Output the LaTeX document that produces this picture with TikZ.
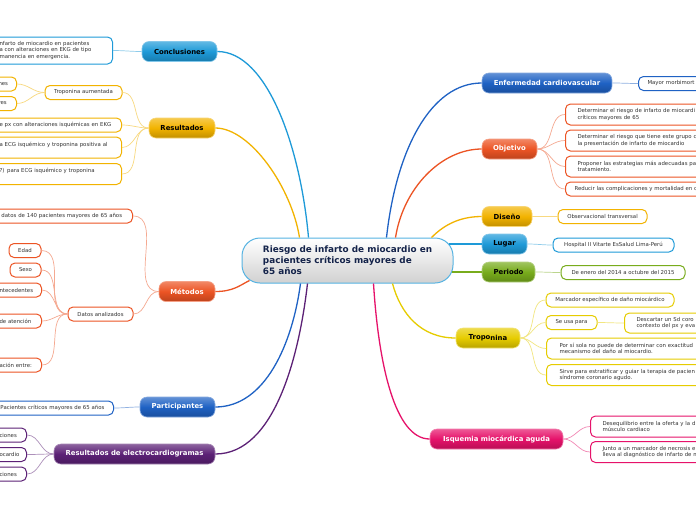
\documentclass[tikz,border=0pt]{standalone}
\usepackage{fontspec}
\setmainfont{DejaVu Sans}

\definecolor{cBlue}{HTML}{1E9AD8}
\definecolor{cNavy}{HTML}{1F62C4}
\definecolor{cGold}{HTML}{F2B300}
\definecolor{cRed}{HTML}{EC5424}
\definecolor{cGreen}{HTML}{78AC1C}
\definecolor{cYel}{HTML}{E6CC00}
\definecolor{cPink}{HTML}{E6126A}
\definecolor{cPurp}{HTML}{5C2176}
\definecolor{cRoot}{HTML}{14234A}

\tikzset{
  mainbox/.style={rounded corners=7pt, minimum height=20, inner sep=0pt,
    font=\bfseries\fontsize{6.9}{8}\selectfont,
    draw=#1!55!white, line width=0.6pt,
    top color=#1!70!white, bottom color=#1!80!black, middle color=#1},
  rootbox/.style={rounded corners=18pt, minimum width=211, minimum height=45,
    inner sep=0pt, align=left, text=cRoot,
    font=\bfseries\fontsize{8.85}{11}\selectfont,
    top color=white, bottom color=black!18, draw=cBlue!75, line width=1pt},
  subbox/.style={draw=#1, line width=1pt, fill=white, rounded corners=5pt,
    font=\fontsize{5.4}{6.4}\selectfont, text=black!80, align=left,
    minimum height=14, inner xsep=9pt, inner ysep=1pt},
  twoline/.style={minimum height=21},
  cutleft/.style={anchor=east, text width=#1},
  cutright/.style={anchor=west, text width=#1, inner xsep=12pt},
  trunk/.style={draw=#1, line width=1.3pt},
  twig/.style={draw=#1!50!white, line width=0.7pt},
}

\begin{document}
\begin{tikzpicture}[x=1pt, y=-1pt]
\useasboundingbox (0,0) rectangle (696,520);
\clip (0,0) rectangle (696,520);
\fill[white] (0,0) rectangle (696,520);

% centre
\node[rootbox] (root) at (347.5,260.5) {Riesgo de infarto de miocardio en\\pacientes críticos mayores de\\65 años};

% left branches
\node[mainbox=cBlue, minimum width=75] (concl) at (179.5,51.5) {Conclusiones};
\node[subbox=cBlue, cutleft=104pt, minimum height=27] (concl1) at (113,50.5) {\mbox{nfarto de miocardio en pacientes}\\\mbox{a con alteraciones en EKG de tipo}\\\mbox{manencia en emergencia.}};

\node[mainbox=cGold, minimum width=66] (res) at (182,128) {Resultados};
\node[subbox=cGold, minimum width=77] (tropup) at (83.5,92.5) {Troponina aumentada};
\node[subbox=cGold, cutleft=9pt] (tropup1) at (17,84) {nes};
\node[subbox=cGold, cutleft=9pt] (tropup2) at (17,103.5) {res};
\node[subbox=cGold, cutleft=113pt] (res1) at (122,125) {\mbox{e px con alteraciones isquémicas en EKG}};
\node[subbox=cGold, cutleft=113pt, twoline] (res2) at (122,147.5) {\mbox{a ECG isquémico y troponina positiva al}\\\mbox{}};
\node[subbox=cGold, cutleft=113pt, twoline] (res3) at (122,174) {\mbox{?) para ECG isquémico y troponina}\\\mbox{}};

\node[mainbox=cRed, minimum width=56, text=white] (met) at (187,291.5) {Métodos};
\node[subbox=cRed, cutleft=122pt] (met1) at (133,216) {\mbox{datos de 140 pacientes mayores de 65 años}};
\node[subbox=cRed, minimum width=65] (datos) at (100.5,314) {Datos analizados};
\node[subbox=cRed, minimum width=32] (edad) at (25,250.5) {Edad};
\node[subbox=cRed, minimum width=31] (sexo) at (25.5,270) {Sexo};
\node[subbox=cRed, cutleft=33pt] (ante) at (42,290) {\mbox{ntecedentes}};
\node[subbox=cRed, cutleft=33pt] (aten) at (42,321) {\mbox{de atención}};
\node[subbox=cRed, cutleft=33pt] (rel) at (42,365) {\mbox{ación entre:}};

\node[mainbox=cNavy, minimum width=75, text=white] (part) at (177.5,407) {Participantes};
\node[subbox=cNavy, cutleft=104pt] (part1) at (114,408) {\mbox{Pacientes críticos mayores de 65 años}};

\node[mainbox=cPurp, minimum width=161, text=white] (ecg) at (134.5,454) {Resultados de electrocardiogramas};
\node[subbox=cPurp, cutleft=18pt] (ecg1) at (27,435) {ciones};
\node[subbox=cPurp, cutleft=18pt] (ecg2) at (27,454.5) {ocardio};
\node[subbox=cPurp, cutleft=18pt] (ecg3) at (27,474) {ciones};

% right branches
\node[mainbox=cNavy, minimum width=130, text=white] (cardio) at (547,83) {Enfermedad cardiovascular};
\node[subbox=cNavy, cutright=150pt, inner xsep=9pt] (cardio1) at (638,83.5) {Mayor morbimort};

\node[mainbox=cRed, minimum width=55, text=white] (obj) at (509.5,149) {Objetivo};
\node[subbox=cRed, cutright=150pt, twoline] (obj1) at (565,114.5) {\mbox{Determinar el riesgo de infarto de miocardi}\\críticos mayores de 65};
\node[subbox=cRed, cutright=150pt, twoline] (obj2) at (565,140.5) {\mbox{Determinar el riesgo que tiene este grupo c}\\la presentación de infarto de miocardio};
\node[subbox=cRed, cutright=150pt, twoline] (obj3) at (565,166.5) {\mbox{Proponer las estrategias más adecuadas pa}\\tratamiento.};
\node[subbox=cRed, cutright=150pt, inner xsep=9pt] (obj4) at (565,189) {\mbox{Reducir las complicaciones y mortalidad en c}};

\node[mainbox=cGold, minimum width=50] (dis) at (507,216.5) {Diseño};
\node[subbox=cGold, minimum width=89] (dis1) at (602.5,216.5) {Observacional transversal};

\node[mainbox=cBlue, minimum width=45] (lug) at (504.5,244) {Lugar};
\node[subbox=cBlue, minimum width=121] (lug1) at (613.5,245) {Hospital II Vitarte EsSalud Lima-Perú};

\node[mainbox=cGreen, minimum width=53] (per) at (508.5,272) {Periodo};
\node[subbox=cGreen, minimum width=124] (per1) at (623,272.5) {De enero del 2014 a octubre del 2015};

\node[mainbox=cYel, minimum width=64] (trop) at (488,338) {Tropo\raisebox{-1.1pt}{nina}};
\node[subbox=cYel, minimum width=128] (trop1) at (610,300) {Marcador específico de daño miocárdico};
\node[subbox=cYel, minimum width=51] (trop2) at (571.5,322.5) {Se usa para};
\node[subbox=cYel, cutright=150pt, minimum height=20] (trop2a) at (624,323) {\mbox{Descartar un Sd coro}\\contexto del px y eva};
\node[subbox=cYel, cutright=150pt, twoline, inner xsep=13pt] (trop3) at (546,348.5) {\mbox{Por sí sola no puede de determinar con exactitud}\\mecanismo del daño al miocardio.};
\node[subbox=cYel, cutright=150pt, twoline, inner xsep=13pt] (trop4) at (546,375) {\mbox{Sirve para estratificar y guiar la terapia de pacien}\\síndrome coronario agudo.};

\node[mainbox=cPink, minimum width=133, text=white] (isq) at (496.5,439) {Isquemia miocárdica aguda};
\node[subbox=cPink, cutright=150pt, twoline] (isq1) at (590,426.5) {\mbox{Desequilibrio entre la oferta y la d}\\músculo cardiaco};
\node[subbox=cPink, cutright=150pt, twoline] (isq2) at (590,452) {\mbox{Junto a un marcador de necrosis e}\\\mbox{lleva al diagnóstico de infarto de m}};

% trunks
\draw[trunk=cBlue] (concl.east) .. controls +(50,0) and +(-8,-90) .. ([xshift=67pt]root.north west);
\draw[trunk=cGold] (res.east) .. controls +(35,0) and +(-8,-50) .. ([xshift=58pt]root.north west);
\draw[trunk=cRed] (met.east) .. controls +(18,0) and +(-10,5) .. ([xshift=8pt,yshift=3pt]root.south west);
\draw[trunk=cNavy] (part.east) .. controls +(50,0) and +(-8,60) .. ([xshift=59pt]root.south west);
\draw[trunk=cPurp] (ecg.east) .. controls +(60,0) and +(-8,70) .. ([xshift=66pt]root.south west);
\draw[trunk=cNavy] (cardio.west) .. controls +(-50,0) and +(10,-90) .. ([xshift=145pt]root.north west);
\draw[trunk=cRed] (obj.west) .. controls +(-40,0) and +(8,-50) .. ([xshift=154pt]root.north west);
\draw[trunk=cGold] (dis.west) .. controls +(-25,0) and +(10,-10) .. ([xshift=-22pt]root.north east);
\draw[trunk=cBlue] (lug.west) .. controls +(-15,0) and +(15,0) .. ([xshift=-5pt,yshift=16.5pt]root.east);
\draw[trunk=cGreen] (per.west) .. controls +(-15,0) and +(15,0) .. ([xshift=-1.5pt,yshift=-11.5pt]root.east);
\draw[trunk=cYel] (trop.west) .. controls +(-35,0) and +(8,30) .. ([xshift=151pt]root.south west);
\draw[trunk=cPink] (isq.west) .. controls +(-35,0) and +(5,80) .. ([xshift=132pt]root.south west);

% twigs, left
\draw[twig=cBlue] (concl.west) to[out=180,in=0] (concl1.east);
\foreach \n in {tropup,res1,res2,res3}
  \draw[twig=cGold] (res.west) to[out=180,in=0] (\n.east);
\foreach \n in {tropup1,tropup2}
  \draw[twig=cGold] (tropup.west) to[out=180,in=0] (\n.east);
\foreach \n in {met1,datos}
  \draw[twig=cRed] (met.west) to[out=180,in=0] (\n.east);
\foreach \n in {edad,sexo,ante,aten,rel}
  \draw[twig=cRed] (datos.west) to[out=180,in=0] (\n.east);
\draw[twig=cNavy] (part.west) to[out=180,in=0] (part1.east);
\foreach \n in {ecg1,ecg2,ecg3}
  \draw[twig=cPurp] (ecg.west) to[out=180,in=0] (\n.east);

% twigs, right
\draw[twig=cNavy] (cardio.east) to[out=0,in=180] (cardio1.west);
\foreach \n in {obj1,obj2,obj3,obj4}
  \draw[twig=cRed] (obj.east) to[out=0,in=180] (\n.west);
\draw[twig=cGold] (dis.east) to[out=0,in=180] (dis1.west);
\draw[twig=cBlue] (lug.east) to[out=0,in=180] (lug1.west);
\draw[twig=cGreen] (per.east) to[out=0,in=180] (per1.west);
\foreach \n in {trop1,trop2,trop3,trop4}
  \draw[twig=cYel] (trop.east) to[out=0,in=180] (\n.west);
\draw[twig=cYel] (trop2.east) to[out=0,in=180] (trop2a.west);
\foreach \n in {isq1,isq2}
  \draw[twig=cPink] (isq.east) to[out=0,in=180] (\n.west);
\end{tikzpicture}
\end{document}
